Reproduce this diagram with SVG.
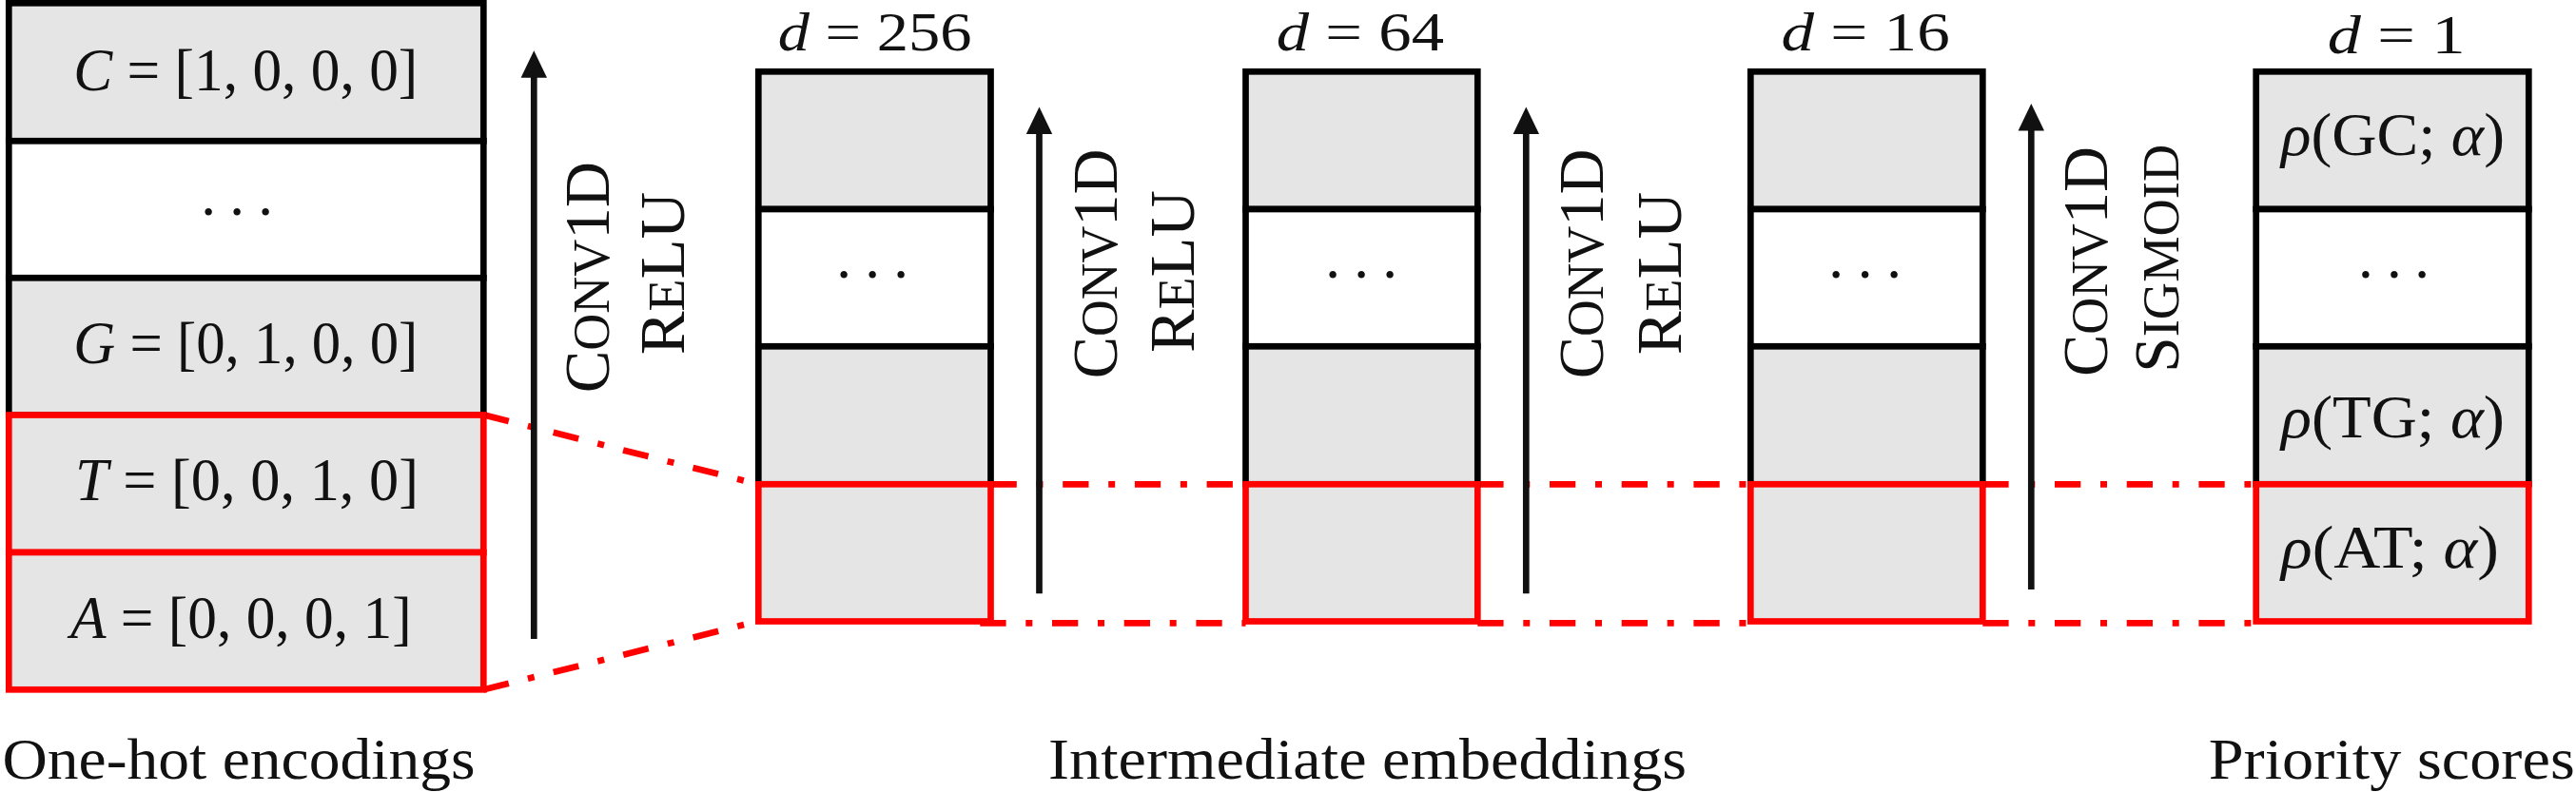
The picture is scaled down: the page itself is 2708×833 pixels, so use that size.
<svg xmlns="http://www.w3.org/2000/svg" width="2708" height="833" viewBox="0 0 2708 833">
<defs>
<style>
.cell{fill:#e5e5e5;stroke:#000;stroke-width:6.7;stroke-linejoin:miter}
.blank{fill:#fff;stroke:#000;stroke-width:6.7;stroke-linejoin:miter}
.hl{fill:#e5e5e5;stroke:#ff0000;stroke-width:6.7;stroke-linejoin:miter}
.link{fill:none;stroke:#ff0000;stroke-width:6.7;stroke-dasharray:27.3 20.7 7 20.7}
.arrow{fill:none;stroke:#111;stroke-width:6.7;marker-end:url(#tip)}
text{font-family:"Liberation Serif","Times New Roman",serif;fill:#111}
.m{font-size:63px}
.r{font-size:64px}
.d{font-size:58px}
.cap{font-size:62px}
.i{font-style:italic}
.sc{font-size:68px;font-variant:small-caps}
.scs{font-size:79px}
</style>
<marker id="tip" markerUnits="userSpaceOnUse" markerWidth="32" markerHeight="32" refX="0" refY="0" orient="auto" overflow="visible">
<path d="M-1,-13.7 L27.4,0 L-1,13.7 Z" fill="#111"/>
</marker>
</defs>
<rect width="2708" height="833" fill="#fff"/>

<g id="connectors">
<path class="link" d="M508.3,436.3 L797.3,509.3"/>
<path class="link" d="M508.3,725.3 L797.3,653.3"/>
<path class="link" d="M1041.5,509.3 L1309.5,509.3"/>
<path class="link" d="M1030.3,655.3 L1309.5,655.3"/>
<path class="link" d="M1553.3,509.3 L1840.3,509.3"/>
<path class="link" d="M1553.3,655.3 L1840.3,655.3"/>
<path class="link" d="M2084.3,509.3 L2371.7,509.3"/>
<path class="link" d="M2084.3,655.3 L2371.7,655.3"/>
<g id="edge-1">
<path class="arrow" d="M561.3,672 L561.3,80.7"/>
<text class="sc" transform="translate(640,413.3) rotate(-90)" textLength="243.3" lengthAdjust="spacingAndGlyphs">C<tspan class="scs">onv</tspan>1D</text>
<text class="sc" transform="translate(719,373.3) rotate(-90)" textLength="171.6" lengthAdjust="spacingAndGlyphs">R<tspan class="scs">e</tspan>LU</text>
</g>
<g id="edge-2">
<path class="arrow" d="M1092.5,624.3 L1092.5,140"/>
<text class="sc" transform="translate(1173.6,398.3) rotate(-90)" textLength="241.6" lengthAdjust="spacingAndGlyphs">C<tspan class="scs">onv</tspan>1D</text>
<text class="sc" transform="translate(1255,371) rotate(-90)" textLength="171" lengthAdjust="spacingAndGlyphs">R<tspan class="scs">e</tspan>LU</text>
</g>
<g id="edge-3">
<path class="arrow" d="M1604.3,624.3 L1604.3,140"/>
<text class="sc" transform="translate(1685,398.3) rotate(-90)" textLength="241.6" lengthAdjust="spacingAndGlyphs">C<tspan class="scs">onv</tspan>1D</text>
<text class="sc" transform="translate(1767,373.3) rotate(-90)" textLength="171.6" lengthAdjust="spacingAndGlyphs">R<tspan class="scs">e</tspan>LU</text>
</g>
<g id="edge-4">
<path class="arrow" d="M2135.3,620 L2135.3,136.4"/>
<text class="sc" transform="translate(2215,396) rotate(-90)" textLength="242" lengthAdjust="spacingAndGlyphs">C<tspan class="scs">onv</tspan>1D</text>
<text class="sc" transform="translate(2290,391.7) rotate(-90)" textLength="240" lengthAdjust="spacingAndGlyphs">S<tspan class="scs">igmoid</tspan></text>
</g>
</g>

<g id="node-onehot">
<rect class="cell" x="9.3" y="3.3" width="499" height="145"/>
<rect class="blank" x="9.3" y="148.3" width="499" height="144"/>
<rect class="cell" x="9.3" y="292.3" width="499" height="144.2"/>
<rect class="hl" x="9.3" y="436.5" width="499" height="144.5"/>
<rect class="hl" x="9.3" y="581" width="499" height="144.3"/>
<text class="m" x="77.3" y="95" textLength="362" lengthAdjust="spacingAndGlyphs"><tspan class="i">C</tspan> = [1, 0, 0, 0]</text>
<text class="m" x="211.3 241.3 271.3" y="226">...</text>
<text class="m" x="77.3" y="381.5" textLength="362" lengthAdjust="spacingAndGlyphs"><tspan class="i">G</tspan> = [0, 1, 0, 0]</text>
<text class="m" x="79" y="526" textLength="361" lengthAdjust="spacingAndGlyphs"><tspan class="i">T</tspan> = [0, 0, 1, 0]</text>
<text class="m" x="74" y="670.6" textLength="358.6" lengthAdjust="spacingAndGlyphs"><tspan class="i">A</tspan> = [0, 0, 0, 1]</text>
</g>

<g id="node-d256">
<text class="d" x="817.7" y="53.3" textLength="203.8" lengthAdjust="spacingAndGlyphs"><tspan class="i">d</tspan> = 256</text>
<rect class="cell" x="797.3" y="75.3" width="244.2" height="144.7"/>
<rect class="blank" x="797.3" y="220" width="244.2" height="144.3"/>
<rect class="cell" x="797.3" y="364.3" width="244.2" height="145"/>
<rect class="hl" x="797.3" y="509.3" width="244.2" height="144.2"/>
<text class="m" x="879.3 909.3 939.3" y="292">...</text>
</g>

<g id="node-d64">
<text class="d" x="1341.8" y="53.3" textLength="176.2" lengthAdjust="spacingAndGlyphs"><tspan class="i">d</tspan> = 64</text>
<rect class="cell" x="1309.5" y="75.3" width="243.8" height="144.7"/>
<rect class="blank" x="1309.5" y="220" width="243.8" height="144.3"/>
<rect class="cell" x="1309.5" y="364.3" width="243.8" height="145"/>
<rect class="hl" x="1309.5" y="509.3" width="243.8" height="144.2"/>
<text class="m" x="1393.3 1423.3 1453.3" y="292">...</text>
</g>

<g id="node-d16">
<text class="d" x="1872.5" y="52.5" textLength="177.2" lengthAdjust="spacingAndGlyphs"><tspan class="i">d</tspan> = 16</text>
<rect class="cell" x="1840.3" y="75.3" width="244" height="144.7"/>
<rect class="blank" x="1840.3" y="220" width="244" height="144.3"/>
<rect class="cell" x="1840.3" y="364.3" width="244" height="145"/>
<rect class="hl" x="1840.3" y="509.3" width="244" height="144.2"/>
<text class="m" x="1922.3 1952.8 1983.3" y="292">...</text>
</g>

<g id="node-d1">
<text class="d" x="2446.7" y="55.5" textLength="145" lengthAdjust="spacingAndGlyphs"><tspan class="i">d</tspan> = 1</text>
<rect class="cell" x="2371.7" y="75.3" width="286.6" height="144.7"/>
<rect class="blank" x="2371.7" y="220" width="286.6" height="144.3"/>
<rect class="cell" x="2371.7" y="364.3" width="286.6" height="145"/>
<rect class="hl" x="2371.7" y="509.3" width="286.6" height="144.2"/>
<text class="r" x="2398" y="163.3" textLength="235" lengthAdjust="spacingAndGlyphs"><tspan class="i">ρ</tspan>(GC; <tspan class="i">α</tspan>)</text>
<text class="m" x="2479 2509 2538.3" y="292">...</text>
<text class="r" x="2398" y="460" textLength="235" lengthAdjust="spacingAndGlyphs"><tspan class="i">ρ</tspan>(TG; <tspan class="i">α</tspan>)</text>
<text class="r" x="2398" y="597" textLength="229" lengthAdjust="spacingAndGlyphs"><tspan class="i">ρ</tspan>(AT; <tspan class="i">α</tspan>)</text>
</g>

<g id="captions">
<text class="cap" x="2.5" y="819" textLength="497" lengthAdjust="spacingAndGlyphs">One-hot encodings</text>
<text class="cap" x="1102" y="819" textLength="671" lengthAdjust="spacingAndGlyphs">Intermediate embeddings</text>
<text class="cap" x="2321.7" y="819" textLength="385" lengthAdjust="spacingAndGlyphs">Priority scores</text>
</g>
</svg>
